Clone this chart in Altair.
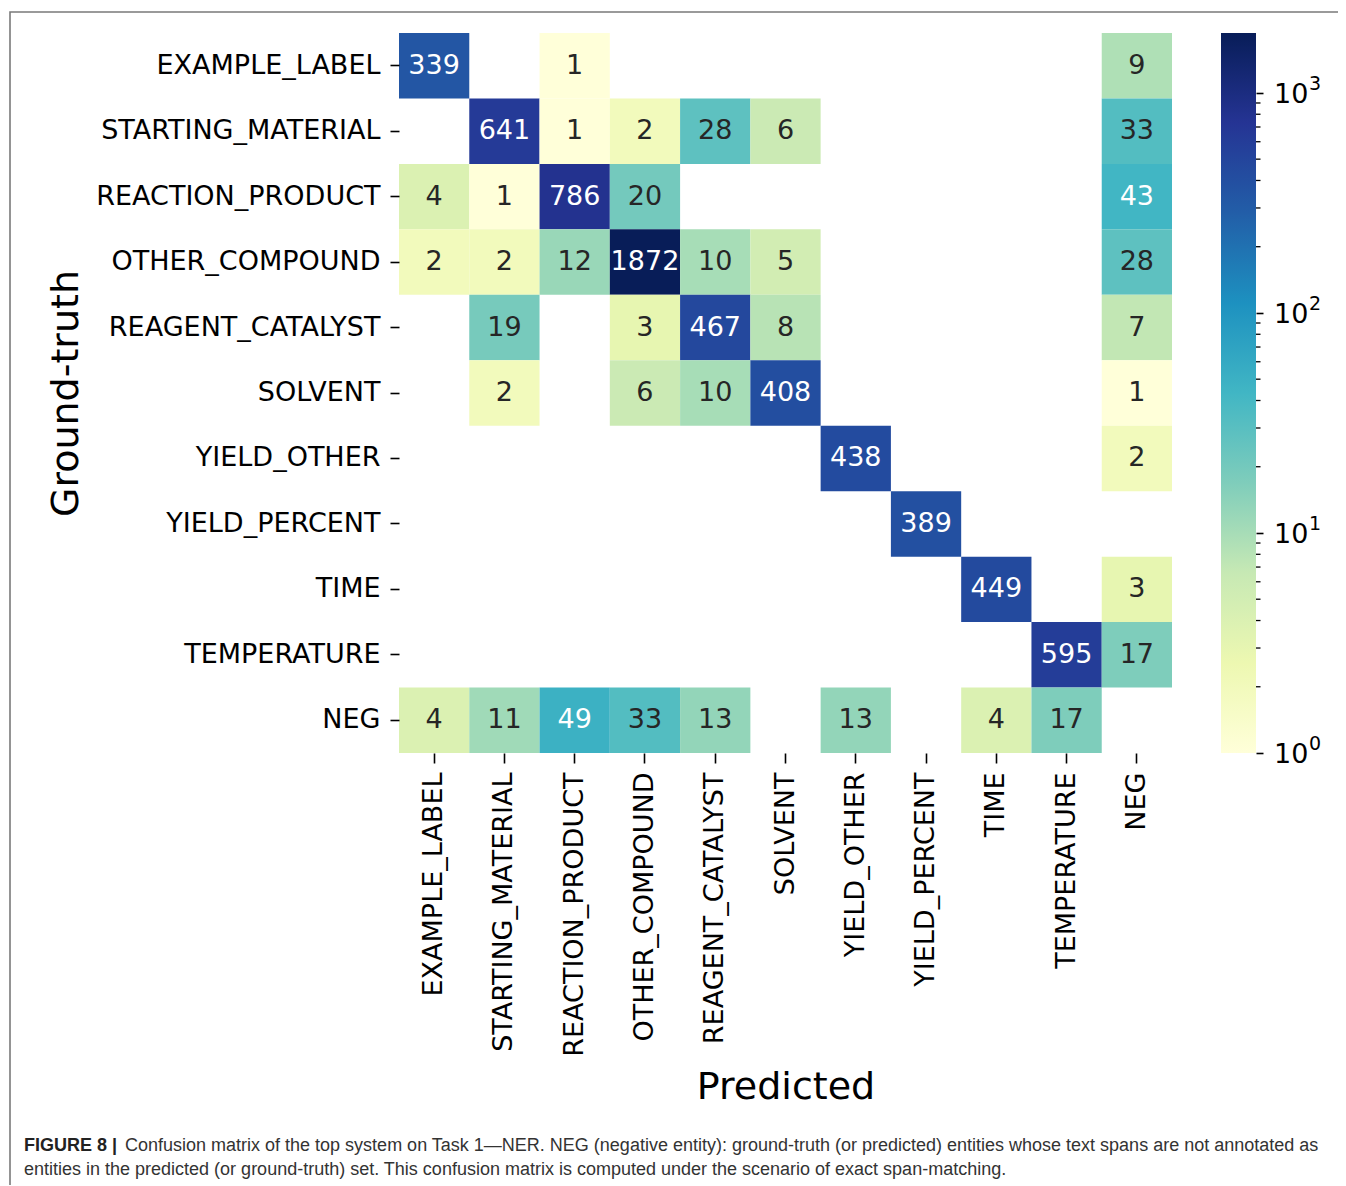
import altair as alt
import pandas as pd

# ---------------- data ----------------
categories = ["EXAMPLE_LABEL", "STARTING_MATERIAL", "REACTION_PRODUCT", "OTHER_COMPOUND",
              "REAGENT_CATALYST", "SOLVENT", "YIELD_OTHER", "YIELD_PERCENT", "TIME",
              "TEMPERATURE", "NEG"]

N = None
# rows = ground truth, columns = predicted (same order as categories)
row_example_label     = [339, N, 1, N, N, N, N, N, N, N, 9]
row_starting_material = [N, 641, 1, 2, 28, 6, N, N, N, N, 33]
row_reaction_product  = [4, 1, 786, 20, N, N, N, N, N, N, 43]
row_other_compound    = [2, 2, 12, 1872, 10, 5, N, N, N, N, 28]
row_reagent_catalyst  = [N, 19, N, 3, 467, 8, N, N, N, N, 7]
row_solvent           = [N, 2, N, 6, 10, 408, N, N, N, N, 1]
row_yield_other       = [N, N, N, N, N, N, 438, N, N, N, 2]
row_yield_percent     = [N, N, N, N, N, N, N, 389, N, N, N]
row_time              = [N, N, N, N, N, N, N, N, 449, N, 3]
row_temperature       = [N, N, N, N, N, N, N, N, N, 595, 17]
row_neg               = [4, 11, 49, 33, 13, N, 13, N, 4, 17, N]

matrix = [row_example_label, row_starting_material, row_reaction_product, row_other_compound,
          row_reagent_catalyst, row_solvent, row_yield_other, row_yield_percent, row_time,
          row_temperature, row_neg]

vmin, vmax = 1, 1872
colorbar_major = [1, 10, 100, 1000]
colorbar_exponent = ["0", "1", "2", "3"]
colorbar_minor = [2, 3, 4, 5, 6, 7, 8, 9, 20, 30, 40, 50, 60, 70, 80, 90,
                  200, 300, 400, 500, 600, 700, 800, 900]

ylgnbu = ["#ffffd9", "#edf8b1", "#c7e9b4", "#7fcdbb", "#41b6c4",
          "#1d91c0", "#225ea8", "#253494", "#081d58"]

caption_bold = "FIGURE 8 |"
caption_line1 = ("Confusion matrix of the top system on Task 1\u2014NER. NEG (negative entity): "
                 "ground-truth (or predicted) entities whose text spans are not annotated as")
caption_line2 = ("entities in the predicted (or ground-truth) set. This confusion matrix is "
                 "computed under the scenario of exact span-matching.")

# ---------------- tables ----------------
records = []
for gt, row in zip(categories, matrix):
    for pred, v in zip(categories, row):
        if v is not None:
            records.append({"gt": gt, "pred": pred, "value": v})
df = pd.DataFrame(records)

stops = [vmax ** (i / 8) for i in range(9)]
color_scale = alt.Scale(type="log", domain=stops, range=ylgnbu, interpolate="rgb")

FONT = "DejaVu Sans"

x_scale = alt.Scale(domain=categories, paddingInner=0, paddingOuter=0)
y_scale = alt.Scale(domain=categories, paddingInner=0, paddingOuter=0)

x_axis = alt.Axis(title="Predicted", labelAngle=-90, labelFontSize=27, tickSize=10,
                  tickWidth=1.6, labelPadding=9, titleFontSize=38, titleFontWeight="normal",
                  titleBaseline="alphabetic", titleX=386.5, titleY=345,
                  domain=False, labelFont=FONT, titleFont=FONT, labelLimit=0)
y_axis = alt.Axis(title="Ground-truth", labelFontSize=27, tickSize=9, tickWidth=1.6,
                  labelPadding=10, titleFontSize=38, titleFontWeight="normal",
                  titleBaseline="alphabetic", titleX=-322, titleY=360, titleAngle=270,
                  domain=False, labelFont=FONT, titleFont=FONT, labelLimit=0)

base = alt.Chart(df).encode(
    x=alt.X("pred:N", scale=x_scale, axis=x_axis),
    y=alt.Y("gt:N", scale=y_scale, axis=y_axis),
)
cells = base.mark_rect(strokeWidth=0).encode(
    color=alt.Color("value:Q", scale=color_scale, legend=None)
)
labels = base.mark_text(font=FONT, fontSize=27, baseline="middle", align="center").encode(
    text=alt.Text("value:Q"),
    color=alt.when(alt.datum.value >= 40).then(alt.value("white")).otherwise(alt.value("#262626")),
)
heat = alt.layer(cells, labels)

# ---------------- colorbar ----------------
cb_scale = alt.Scale(type="log", domain=[vmin, vmax], nice=False)
cb_axis = alt.Axis(orient="right", offset=84, values=colorbar_major, tickSize=7, tickWidth=1.6,
                   labels=False, domain=False, grid=False, title="")
gradient = alt.LinearGradient(
    gradient="linear", x1=0, y1=1, x2=0, y2=0,
    stops=[alt.GradientStop(color=c, offset=i / 8) for i, c in enumerate(ylgnbu)],
)
cb_bar = alt.Chart(pd.DataFrame({"lo": [vmin], "hi": [vmax]})).mark_rect(
    color=gradient, strokeWidth=0
).encode(
    y=alt.Y("lo:Q", scale=cb_scale, axis=cb_axis),
    y2="hi:Q",
    x=alt.value(822), x2=alt.value(857),
)
cb_minor = alt.Chart(pd.DataFrame({"v": colorbar_minor})).mark_rule(
    color="black", strokeWidth=1.3
).encode(
    y=alt.Y("v:Q", scale=cb_scale),
    x=alt.value(857), x2=alt.value(861.5),
)
cb_lab_df = pd.DataFrame({"v": colorbar_major, "e": colorbar_exponent})
cb_ten = alt.Chart(cb_lab_df).mark_text(
    text="10", font=FONT, fontSize=27, color="black", align="left", baseline="middle", dy=2
).encode(y=alt.Y("v:Q", scale=cb_scale), x=alt.value(875))
cb_exp = alt.Chart(cb_lab_df).mark_text(
    font=FONT, fontSize=19, color="black", align="left", baseline="middle", dy=-9
).encode(y=alt.Y("v:Q", scale=cb_scale), x=alt.value(910), text="e:N")
cbar = alt.layer(cb_bar, cb_minor, cb_ten, cb_exp)

# ---------------- frame & caption ----------------
one = pd.DataFrame({"a": [0]})
frame = alt.Chart(one).mark_rect(fill="transparent", stroke="#7a7a7a", strokeWidth=1.6).encode(
    x=alt.value(-389), x2=alt.value(960), y=alt.value(-21), y2=alt.value(1190)
)
cap_b = alt.Chart(one).mark_text(
    text=caption_bold, font="Liberation Sans", fontSize=18, fontWeight="bold",
    color="#222222", align="left", baseline="alphabetic"
).encode(x=alt.value(-375), y=alt.value(1118))
cap_1 = alt.Chart(one).mark_text(
    text=caption_line1, font="Liberation Sans", fontSize=18,
    color="#333333", align="left", baseline="alphabetic"
).encode(x=alt.value(-274), y=alt.value(1118))
cap_2 = alt.Chart(one).mark_text(
    text=caption_line2, font="Liberation Sans", fontSize=18,
    color="#333333", align="left", baseline="alphabetic"
).encode(x=alt.value(-375), y=alt.value(1142))

chart = alt.layer(heat, cbar, frame, cap_b, cap_1, cap_2).resolve_scale(
    y="independent"
).resolve_axis(
    y="independent"
).properties(
    width=773, height=720,
    autosize=alt.AutoSizeParams(type="none"),
    padding={"left": 391, "top": 25, "right": 166, "bottom": 432},
).configure_view(
    stroke="transparent"
).configure_axis(
    labelColor="black", titleColor="black", tickColor="black", grid=False
)

chart.save("out.html", embed_options={"renderer": "svg", "actions": False})
